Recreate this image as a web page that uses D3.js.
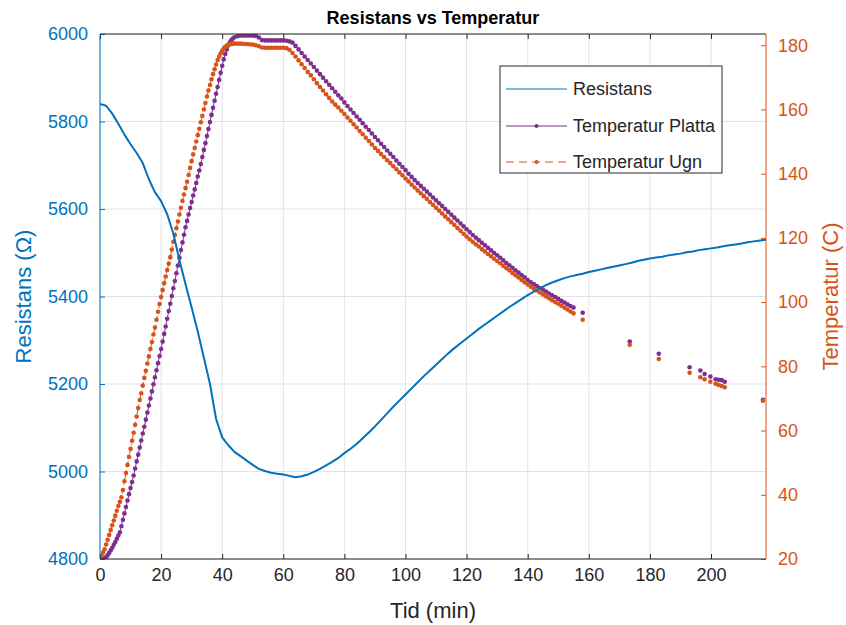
<!DOCTYPE html>
<html>
<head>
<meta charset="utf-8">
<script src="https://cdn.jsdelivr.net/npm/d3@7"></script>
<style>
  html, body { margin: 0; padding: 0; background: #ffffff; }
  svg { display: block; font-family: "Liberation Sans", Arial, Helvetica, sans-serif; }
</style>
</head>
<body>
<svg id="chart" width="846" height="625"></svg>
<script>
// ---------------- DATA ----------------
const chartTitle = "Resistans vs Temperatur";
const xLabel = "Tid (min)";
const yLeftLabel = "Resistans (\u03A9)";
const yRightLabel = "Temperatur (C)";
const seriesNames = ["Resistans", "Temperatur Platta", "Temperatur Ugn"];

const xTicks = [0, 20, 40, 60, 80, 100, 120, 140, 160, 180, 200];
const yLeftTicks = [4800, 5000, 5200, 5400, 5600, 5800, 6000];
const yRightTicks = [20, 40, 60, 80, 100, 120, 140, 160, 180];

// Resistance (ohm), sampled every 2 min
const resTime = [0,2,4,6,8,10,12,14,16,18,20,22,24,26,28,30,32,34,36,38,40,42,44,46,48,50,52,54,56,58,60,62,64,66,68,70,72,74,76,78,80,82,84,86,88,90,92,94,96,98,100,102,104,106,108,110,112,114,116,118,120,122,124,126,128,130,132,134,136,138,140,142,144,146,148,150,152,154,156,158,160,162,164,166,168,170,172,174,176,178,180,182,184,186,188,190,192,194,196,198,200,202,204,206,208,210,212,214,216,218];
const resistans = [5840,5836,5818,5795,5770,5748,5728,5705,5668,5638,5618,5588,5544,5483,5428,5375,5320,5260,5200,5120,5078,5060,5045,5035,5025,5015,5006,5001,4997,4995,4993,4990,4987,4989,4993,4999,5006,5014,5022,5031,5042,5052,5063,5076,5089,5103,5118,5133,5148,5162,5176,5190,5204,5218,5231,5244,5257,5270,5282,5293,5304,5315,5326,5336,5346,5356,5366,5376,5385,5394,5403,5411,5419,5426,5432,5437,5442,5446,5449,5452,5456,5459,5462,5465,5468,5471,5474,5477,5481,5484,5487,5489,5491,5494,5496,5498,5501,5503,5506,5508,5510,5512,5515,5517,5519,5521,5524,5526,5528,5530];

// Temperature, continuous logging (min)
const tempTime = [0,0.5,1,1.5,2,2.5,3,3.5,4,4.5,5,5.5,6,6.5,7,7.5,8,8.5,9,9.5,10,10.5,11,11.5,12,12.5,13,13.5,14,14.5,15,15.5,16,16.5,17,17.5,18,18.5,19,19.5,20,20.5,21,21.5,22,22.5,23,23.5,24,24.5,25,25.5,26,26.5,27,27.5,28,28.5,29,29.5,30,30.5,31,31.5,32,32.5,33,33.5,34,34.5,35,35.5,36,36.5,37,37.5,38,38.5,39,39.5,40,40.5,41,41.5,42,42.5,43,43.5,44,
45,46,47,48,49,50,51,52,53,54,55,56,57,58,59,60,61,62,63,64,65,66,67,68,69,70,71,72,73,74,75,76,77,78,79,80,81,82,83,84,85,86,87,88,89,90,91,92,93,94,95,96,97,98,99,100,101,102,103,104,105,106,107,108,109,110,111,112,113,114,115,116,117,118,119,120,121,122,123,124,125,126,127,128,129,130,131,132,133,134,135,136,137,138,139,140,141,142,143,144,145,146,147,148,149,150,151,152,153,154,155];

const tempPlatta = [20,20,20,20.2,20.6,21.2,21.9,22.7,23.5,24.4,25.3,26.3,27.3,28.3,30.2,32.2,34.2,36.2,38.2,40.2,42.1,44.0,46.0,48.2,50.4,52.5,54.7,56.9,59.1,61.2,63.4,65.6,67.8,70.0,72.2,74.4,76.6,78.8,81.0,83.2,85.4,87.7,90.1,92.4,94.8,97.2,99.5,101.9,104.3,106.6,109.0,111.4,113.8,116.2,118.6,121.0,123.3,125.3,127.3,129.3,131.2,133.2,135.1,137.1,139.1,141.0,143.0,145.2,147.4,149.5,151.7,153.9,156.1,158.3,160.5,162.7,164.9,167.0,169.2,171.4,173.6,175.6,177.3,178.7,179.9,180.9,181.6,182.1,182.5,
182.8,183.0,183.0,183.0,183.0,183.0,182.9,182.4,181.6,181.5,181.5,181.5,181.5,181.5,181.5,181.5,181.4,181.2,180.8,179.8,178.7,177.6,176.5,175.4,174.3,173.2,172.1,171.0,169.9,168.8,167.7,166.6,165.5,164.4,163.4,162.2,161.1,160.0,158.9,157.8,156.8,155.7,154.6,153.6,152.5,151.4,150.4,149.3,148.3,147.2,146.2,145.2,144.1,143.1,142.1,141.1,140.0,139.0,138.0,137.1,136.2,135.3,134.4,133.5,132.6,131.7,130.8,129.9,129.0,128.1,127.2,126.3,125.4,124.5,123.6,122.7,121.8,120.9,120.1,119.3,118.5,117.7,116.9,116.1,115.3,114.6,113.8,113.0,112.2,111.5,110.7,109.9,109.2,108.4,107.7,106.9,106.2,105.6,105.0,104.4,103.9,103.3,102.7,102.1,101.6,101.0,100.4,99.9,99.3,98.8,98.3];

const tempUgn = [20.5,21,22,23,24.5,26,27.5,29,30.5,32,33.5,35,36.5,37.8,39.2,41.5,44.2,46.8,49.3,51.8,54.3,56.8,59.3,61.8,64.4,67,69.5,71.6,74,76.4,78.6,80.9,83.1,85.4,87.6,89.9,92.1,94.5,97,99.4,101.6,103.8,105.9,108,110,112,114,116.4,118.8,120.9,123,125.1,127.3,129.4,131.5,133.5,135.5,137.5,139.6,141.8,143.9,146,148,150,152,154,156,158,160,162,164,165.9,167.6,169.4,171,172.5,174,175.4,176.5,177.5,178.3,179,179.5,179.9,180.1,180.3,180.4,180.5,180.5,
180.5,180.5,180.4,180.4,180.3,180.2,180.0,179.7,179.3,179.2,179.2,179.2,179.2,179.2,179.2,179.2,179.1,178.6,177.6,176.5,175.3,174.1,172.9,171.7,170.6,169.4,168.2,167.0,165.9,164.7,163.6,162.5,161.5,160.6,159.6,158.6,157.5,156.5,155.4,154.4,153.3,152.3,151.2,150.2,149.1,148.0,147.1,146.1,145.2,144.2,143.3,142.3,141.4,140.4,139.5,138.5,137.6,136.6,135.7,134.8,133.9,133.0,132.1,131.2,130.3,129.4,128.5,127.6,126.7,125.8,124.9,124.0,123.1,122.2,121.3,120.4,119.6,118.8,118.0,117.3,116.5,115.8,115.0,114.3,113.5,112.8,112.1,111.3,110.6,109.9,109.1,108.4,107.7,106.9,106.2,105.5,104.8,104.2,103.6,103.0,102.4,101.8,101.2,100.6,100.0,99.5,98.9,98.3,97.7,97.1,96.5];

// Sparse later readings (markers only)
const tailTime   = [158, 173.4, 182.9, 193, 196.5, 197.9, 199.8, 201.5, 202.5, 203.5, 204.5, 217];
const tailPlatta = [96.7, 87.7, 83.9, 79.7, 78.7, 77.6, 76.8, 76.0, 75.8, 75.7, 75.2, 69.6];
const tailUgn    = [94.5, 86.7, 82.3, 78.0, 76.6, 76.0, 75.2, 74.6, 74.2, 73.9, 73.5, 69.3];

// ---------------- LAYOUT / STYLE ----------------
const W = 846, H = 625;
const M = { left: 100, right: 80, top: 34, bottom: 66 };
const blue = "#0072BD", orange = "#D95319", purple = "#7E2F8E", dark = "#262626", grid = "#e3e3e3";
const FONT = '"Liberation Sans", Arial, Helvetica, sans-serif';

const svg = d3.select("#chart");
const iw = W - M.left - M.right, ih = H - M.top - M.bottom;

const x = d3.scaleLinear().domain([0, 218]).range([M.left, M.left + iw]);
const yL = d3.scaleLinear().domain([4800, 6000]).range([M.top + ih, M.top]);
const yR = d3.scaleLinear().domain([20, 183.5]).range([M.top + ih, M.top]);

svg.append("defs").append("clipPath").attr("id", "clip")
  .append("rect").attr("x", M.left).attr("y", M.top).attr("width", iw).attr("height", ih);

// grid
const g = svg.append("g");
g.selectAll(".gx").data(xTicks).enter().append("line")
  .attr("x1", d => x(d)).attr("x2", d => x(d))
  .attr("y1", M.top).attr("y2", M.top + ih)
  .attr("stroke", grid).attr("stroke-width", 1);
g.selectAll(".gy").data(yLeftTicks).enter().append("line")
  .attr("x1", M.left).attr("x2", M.left + iw)
  .attr("y1", d => yL(d)).attr("y2", d => yL(d))
  .attr("stroke", grid).attr("stroke-width", 1);

// data
const plot = svg.append("g").attr("clip-path", "url(#clip)");

const tempPts = (vals) => tempTime.map((t, i) => ({ t, v: vals[i] }));
const tailPts = (vals) => tailTime.map((t, i) => ({ t, v: vals[i] }));
const lineR = d3.line().x(d => x(d.t)).y(d => yR(d.v));

// Platta
const pPts = tempPts(tempPlatta);
plot.append("path").datum(pPts).attr("d", lineR)
  .attr("fill", "none").attr("stroke", purple).attr("stroke-width", 1);
plot.selectAll(".pm").data(pPts.concat(tailPts(tailPlatta))).enter().append("circle")
  .attr("cx", d => x(d.t)).attr("cy", d => yR(d.v)).attr("r", 2.3).attr("fill", purple);

// Ugn
const uPts = tempPts(tempUgn);
plot.append("path").datum(uPts).attr("d", lineR)
  .attr("fill", "none").attr("stroke", orange).attr("stroke-width", 1)
  .attr("stroke-dasharray", "6,3,1.5,3");
plot.selectAll(".um").data(uPts.concat(tailPts(tailUgn))).enter().append("circle")
  .attr("cx", d => x(d.t)).attr("cy", d => yR(d.v)).attr("r", 2.3).attr("fill", orange);

// Resistance
const lineL = d3.line().x((d, i) => x(resTime[i])).y(d => yL(d));
plot.append("path").datum(resistans).attr("d", lineL)
  .attr("fill", "none").attr("stroke", blue).attr("stroke-width", 2).attr("stroke-linejoin", "round");

// axes
const fs = 18;
const axB = d3.axisBottom(x).tickValues(xTicks).tickSize(-5).tickPadding(9).tickFormat(d3.format("d"));
const axT = d3.axisTop(x).tickValues(xTicks).tickSize(-5).tickFormat("");
const axLft = d3.axisLeft(yL).tickValues(yLeftTicks).tickSize(-5).tickPadding(12).tickFormat(d3.format("d"));
const axRgt = d3.axisRight(yR).tickValues(yRightTicks).tickSize(-5).tickPadding(12).tickFormat(d3.format("d"));

function styleAxis(sel, color) {
  sel.select(".domain").remove();
  sel.selectAll(".tick line").attr("stroke", color);
  sel.selectAll(".tick text").attr("fill", color).style("font-size", fs + "px").style("font-family", FONT);
}
const gB = svg.append("g").attr("transform", `translate(0,${M.top + ih})`).call(axB);
styleAxis(gB, dark);
const gT = svg.append("g").attr("transform", `translate(0,${M.top})`).call(axT);
styleAxis(gT, dark);
const gL = svg.append("g").attr("transform", `translate(${M.left},0)`).call(axLft);
styleAxis(gL, blue);
const gR = svg.append("g").attr("transform", `translate(${M.left + iw},0)`).call(axRgt);
styleAxis(gR, orange);

svg.append("line").attr("x1", M.left).attr("x2", M.left + iw).attr("y1", M.top + ih).attr("y2", M.top + ih).attr("stroke", dark);
svg.append("line").attr("x1", M.left).attr("x2", M.left + iw).attr("y1", M.top).attr("y2", M.top).attr("stroke", dark);
svg.append("line").attr("x1", M.left).attr("x2", M.left).attr("y1", M.top).attr("y2", M.top + ih).attr("stroke", blue);
svg.append("line").attr("x1", M.left + iw).attr("x2", M.left + iw).attr("y1", M.top).attr("y2", M.top + ih).attr("stroke", orange);

// labels
svg.append("text").attr("x", (M.left + M.left + iw) / 2).attr("y", 24)
  .attr("text-anchor", "middle").attr("fill", "#000").style("font-size", "18px").style("font-weight", "bold")
  .style("font-family", FONT).text(chartTitle);
svg.append("text").attr("x", (M.left + M.left + iw) / 2).attr("y", 618)
  .attr("text-anchor", "middle").attr("fill", dark).style("font-size", "22px").style("font-family", FONT).text(xLabel);
svg.append("text").attr("transform", `translate(31,${M.top + ih / 2}) rotate(-90)`)
  .attr("text-anchor", "middle").attr("fill", blue).style("font-size", "22px").style("font-family", FONT).text(yLeftLabel);
svg.append("text").attr("transform", `translate(838,${M.top + ih / 2}) rotate(-90)`)
  .attr("text-anchor", "middle").attr("fill", orange).style("font-size", "22px").style("font-family", FONT).text(yRightLabel);

// legend
const lg = svg.append("g");
lg.append("rect").attr("x", 500).attr("y", 66).attr("width", 222).attr("height", 107)
  .attr("fill", "#fff").attr("stroke", dark).attr("stroke-width", 1);
const legendRows = [
  { name: seriesNames[0], color: blue, dash: null, marker: false, y: 89 },
  { name: seriesNames[1], color: purple, dash: null, marker: true, y: 126 },
  { name: seriesNames[2], color: orange, dash: "8,5", marker: true, y: 162 }
];
legendRows.forEach(r => {
  const l = lg.append("line").attr("x1", 506).attr("x2", 567).attr("y1", r.y).attr("y2", r.y)
    .attr("stroke", r.color).attr("stroke-width", 1);
  if (r.dash) l.attr("stroke-dasharray", r.dash);
  if (r.marker) lg.append("circle").attr("cx", 536.5).attr("cy", r.y).attr("r", 2).attr("fill", r.color);
  lg.append("text").attr("x", 573).attr("y", r.y + 6).attr("fill", dark).style("font-size", "18px")
    .style("font-family", FONT).text(r.name);
});
</script>
</body>
</html>
